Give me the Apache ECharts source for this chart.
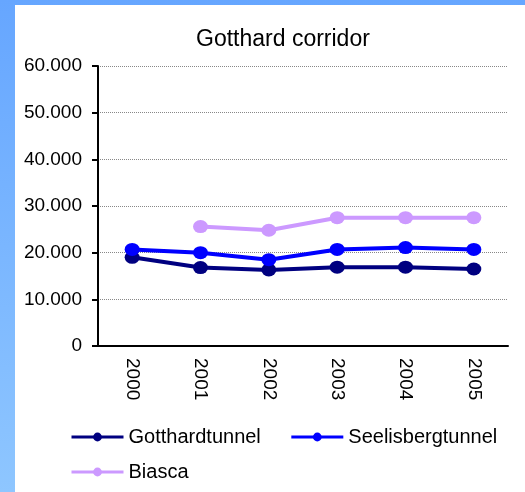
<!DOCTYPE html>
<html>
<head>
<meta charset="utf-8">
<script src="https://cdn.jsdelivr.net/npm/echarts@6/dist/echarts.min.js"></script>
<style>
  html, body { margin: 0; padding: 0; }
  body {
    width: 525px; height: 492px; overflow: hidden;
    background: linear-gradient(to bottom, #66a6ff, #8ec6ff);
    position: relative;
  }
  #chart {
    position: absolute; left: 15px; top: 5px;
    width: 510px; height: 487px; background: #fff;
  }
</style>
</head>
<body>
<div id="chart"></div>
<script>
var years = ['2000', '2001', '2002', '2003', '2004', '2005'];
var gotthard = [19000, 16800, 16300, 16900, 16900, 16500];
var seelisberg = [20700, 20000, 18500, 20700, 21100, 20700];
var biasca = [null, 25600, 24800, 27500, 27500, 27500];

var font = 'Liberation Sans, Arial, sans-serif';

// 10000 -> "10.000"
function fmt(v) {
    return String(v).replace(/\B(?=(\d{3})+(?!\d))/g, '.');
}

function line(name, data, color) {
    return {
        name: name,
        type: 'line',
        data: data,
        symbol: 'circle',
        symbolSize: [15, 13],
        connectNulls: false,
        lineStyle: { color: color, width: 4 },
        itemStyle: { color: color },
        emphasis: { disabled: true }
    };
}

var legendText = { color: '#000', fontFamily: font, fontSize: 20 };

var myChart = echarts.init(document.getElementById('chart'));
var option = {
    animation: false,
    title: {
        text: 'Gotthard corridor',
        left: 176,
        top: 18,
        textStyle: { color: '#000', fontFamily: font, fontSize: 23, fontWeight: 'normal' }
    },
    legend: [
        {
            data: ['Gotthardtunnel', 'Seelisbergtunnel'],
            left: 50, top: 417,
            itemWidth: 52, itemHeight: 11, itemGap: 29,
            lineStyle: { width: 3 },
            textStyle: legendText
        },
        {
            data: ['Biasca'],
            left: 50, top: 452,
            itemWidth: 52, itemHeight: 11,
            lineStyle: { width: 3 },
            textStyle: legendText
        }
    ],
    grid: { left: 83, right: 17, top: 61, bottom: 146 },
    xAxis: {
        type: 'category',
        data: years,
        boundaryGap: true,
        axisLine: { lineStyle: { color: '#000', width: 2 } },
        axisTick: { length: 6, lineStyle: { color: '#000', width: 2 } },
        axisLabel: { rotate: -90, margin: 12, color: '#000', fontFamily: font, fontSize: 19 }
    },
    yAxis: {
        type: 'value',
        min: 0, max: 60000, interval: 10000,
        axisLine: { show: true, lineStyle: { color: '#000', width: 2 } },
        axisTick: { show: true, length: 6, lineStyle: { color: '#000', width: 2 } },
        axisLabel: { margin: 16, color: '#000', fontFamily: font, fontSize: 19, formatter: fmt },
        splitLine: { lineStyle: { color: '#888', type: 'dotted', width: 1 } }
    },
    series: [
        line('Gotthardtunnel', gotthard, '#000080'),
        line('Seelisbergtunnel', seelisberg, '#0000ff'),
        line('Biasca', biasca, '#cc99ff')
    ]
};
myChart.setOption(option);
</script>
</body>
</html>
